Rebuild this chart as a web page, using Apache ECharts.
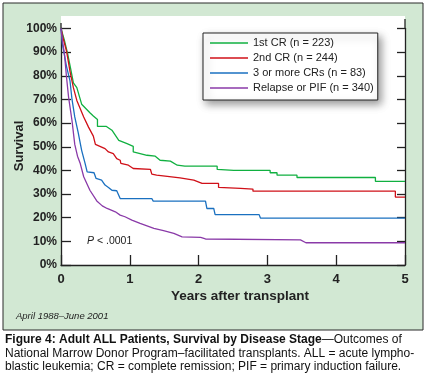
<!DOCTYPE html>
<html>
<head>
<meta charset="utf-8">
<script src="https://cdn.jsdelivr.net/npm/echarts@6/dist/echarts.min.js"></script>
<style>
  html, body { margin: 0; padding: 0; background: #fff; }
  #chart { width: 425px; height: 375px; }
</style>
</head>
<body>
<div id="chart"></div>
<script>
// Kaplan-Meier style curves, [years, survival %]
var firstCR = [[0,100],[0.05,95],[0.097,89.3],[0.14,83],[0.18,77],[0.23,75],[0.30,68],[0.42,64.4],[0.47,63],[0.53,61.5],[0.53,58.6],[0.66,58.6],[0.74,57],[0.84,52.7],[0.96,51.3],[1.05,50.2],[1.05,47.8],[1.15,47.1],[1.25,46.4],[1.37,46],[1.44,44.3],[1.59,43.9],[1.69,42.2],[1.8,41.8],[2.27,41.8],[2.27,40.4],[2.51,40.0],[3.04,40.0],[3.04,39.0],[3.14,39.0],[3.14,38.0],[3.43,38.0],[3.43,37.0],[4.57,37.0],[4.57,35.4],[5,35.4]];
var secondCR = [[0,100],[0.03,96],[0.08,90.5],[0.13,82],[0.18,75],[0.23,69.6],[0.33,62.6],[0.40,58.3],[0.47,54.5],[0.50,51],[0.64,49.2],[0.69,47.8],[0.76,47.1],[0.81,45],[0.86,44.3],[0.87,43],[0.98,42.2],[1.05,40.8],[1.30,40.4],[1.32,38.4],[1.39,38],[1.73,36.8],[1.93,35.9],[2.05,34.5],[2.29,34.5],[2.29,32.8],[2.61,32.4],[2.63,32.1],[2.79,32.1],[2.79,31.2],[4.86,31.2],[4.86,28.7],[5,28.7]];
var threeCR = [[0,100],[0.02,93.5],[0.08,84],[0.13,78],[0.16,70],[0.20,62.6],[0.25,56],[0.30,48.5],[0.35,43],[0.38,39.4],[0.48,39],[0.51,36.6],[0.59,35.9],[0.64,33.8],[0.69,32.8],[0.74,31.6],[0.81,31.4],[0.86,28.1],[1.32,28.1],[1.34,27.0],[2.10,27.0],[2.12,23.9],[2.22,23.9],[2.24,21.3],[2.88,21.3],[2.90,19.8],[5,19.8]];
var relapsePIF = [[0,100],[0.02,95],[0.05,89.3],[0.08,79.5],[0.11,71],[0.16,61],[0.20,51],[0.24,46],[0.28,42.9],[0.33,37.3],[0.42,31.6],[0.52,27.1],[0.60,25],[0.67,23.9],[0.79,22.5],[0.86,21.1],[0.93,20.4],[1.03,19],[1.15,17.6],[1.35,15.5],[1.49,14.5],[1.64,13.4],[1.76,11.9],[2.03,11.7],[2.10,11],[3.48,10.6],[3.56,9.4],[5,9.4]];

var seriesNames = ['1st CR (n = 223)', '2nd CR (n = 244)', '3 or more CRs (n = 83)', 'Relapse or PIF (n = 340)'];
var seriesData = [firstCR, secondCR, threeCR, relapsePIF];
var seriesColors = ['#10b040', '#d01018', '#1a70c0', '#8a3aa8'];

var captionLines = [
  ['Figure 4: Adult ALL Patients, Survival by Disease Stage', '\u2014Outcomes of'],
  ['', 'National Marrow Donor Program\u2013facilitated transplants. ALL = acute lympho-'],
  ['', 'blastic leukemia; CR = complete remission; PIF = primary induction failure.']
];

var FONT = '"Liberation Sans", Arial, sans-serif';
var chart = echarts.init(document.getElementById('chart'));

var graphics = [
  { type: 'rect', z: -20, shape: { x: 3, y: 3, width: 420, height: 327 },
    style: { fill: '#d2e8d3', stroke: '#2a2a2a', lineWidth: 1 } },
  { type: 'rect', z: -19, shape: { x: 61, y: 16, width: 344, height: 249 },
    style: { fill: '#ffffff' } },
  // small axis extensions above the 100% tick
  { type: 'line', shape: { x1: 61, y1: 23, x2: 61, y2: 29 }, style: { stroke: '#222', lineWidth: 1.3 } },
  { type: 'line', shape: { x1: 405, y1: 19, x2: 405, y2: 29 }, style: { stroke: '#222', lineWidth: 1.3 } },
  { type: 'text', x: 19, y: 146, rotation: Math.PI / 2,
    style: { text: 'Survival', font: 'bold 13px ' + FONT, fill: '#222',
             align: 'center', verticalAlign: 'middle' } },
  { type: 'text', x: 240, y: 296,
    style: { text: 'Years after transplant', font: 'bold 13.5px ' + FONT, fill: '#222',
             align: 'center', verticalAlign: 'middle' } },
  { type: 'text', x: 87, y: 241,
    style: { text: '{i|P} < .0001', font: '10.5px ' + FONT, fill: '#222', verticalAlign: 'middle',
             rich: { i: { fontStyle: 'italic', fontSize: 10.5, fontFamily: FONT, fill: '#222' } } } },
  { type: 'text', x: 16, y: 316,
    style: { text: 'April 1988\u2013June 2001', font: 'italic 9.5px ' + FONT, fill: '#222',
             verticalAlign: 'middle' } }
];

captionLines.forEach(function (ln, i) {
  graphics.push({
    type: 'text', x: 5, y: 340 + i * 13.5,
    style: {
      text: (ln[0] ? '{b|' + ln[0] + '}' : '') + ln[1],
      font: '12px ' + FONT, fill: '#111', verticalAlign: 'middle',
      rich: { b: { fontWeight: 'bold', fontSize: 12, fontFamily: FONT, fill: '#111' } }
    }
  });
});

var series = seriesNames.map(function (name, i) {
  return {
    name: name,
    type: 'line',
    data: seriesData[i],
    showSymbol: false,
    symbol: 'none',
    lineStyle: { color: seriesColors[i], width: 1.3 },
    itemStyle: { color: seriesColors[i] },
    animation: false
  };
});

var option = {
  animation: false,
  graphic: graphics,
  grid: { left: 61, right: 20, top: 28.5, bottom: 110, outerBoundsMode: 'none', containLabel: false },
  legend: {
    orient: 'vertical',
    left: 203, top: 33,
    padding: [3, 4, 5, 7],
    itemGap: 1,
    itemWidth: 38,
    itemHeight: 1.5,
    icon: 'rect',
    backgroundColor: '#fff',
    borderColor: '#222',
    borderWidth: 1,
    shadowBlur: 8,
    shadowColor: 'rgba(0,0,0,0.4)',
    shadowOffsetX: 3,
    shadowOffsetY: 4,
    textStyle: { fontFamily: FONT, fontSize: 11, color: '#222', lineHeight: 14 },
    data: seriesNames
  },
  xAxis: {
    type: 'value', min: 0, max: 5, interval: 1,
    axisLine: { lineStyle: { color: '#222', width: 1.3 } },
    axisTick: { inside: true, length: 10, lineStyle: { color: '#222', width: 1.3 } },
    axisLabel: { margin: 8, color: '#222', fontFamily: FONT, fontWeight: 'bold', fontSize: 13,
                 showMinLabel: true, showMaxLabel: true },
    splitLine: { show: false }
  },
  yAxis: [{
    type: 'value', min: 0, max: 100, interval: 10,
    axisLine: { show: true, lineStyle: { color: '#222', width: 1.3 } },
    axisTick: { show: true, inside: true, length: 10, lineStyle: { color: '#222', width: 1.3 } },
    axisLabel: { margin: 4, color: '#222', fontFamily: FONT, fontWeight: 'bold', fontSize: 12,
                 formatter: '{value}%' },
    splitLine: { show: false }
  }, {
    type: 'value', min: 0, max: 100, interval: 10, position: 'right',
    axisLine: { show: true, lineStyle: { color: '#222', width: 1.3 } },
    axisTick: { show: true, inside: true, length: 8, lineStyle: { color: '#222', width: 1.3 } },
    axisLabel: { show: false },
    splitLine: { show: false }
  }],
  series: series
};

chart.setOption(option);
</script>
</body>
</html>
